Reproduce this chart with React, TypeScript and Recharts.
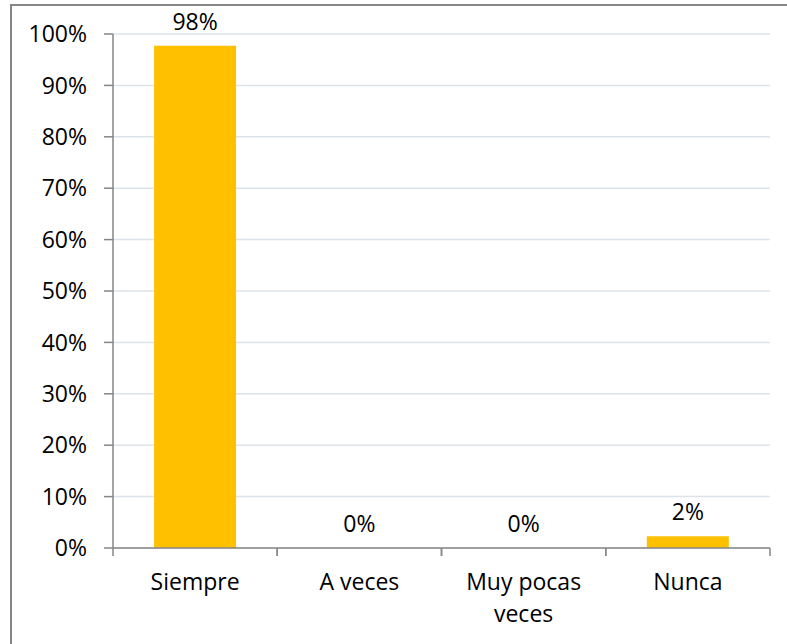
import { ComposedChart, Bar, Line, XAxis, YAxis, CartesianGrid, LabelList } from 'recharts';

const categories = ['Siempre', 'A veces', 'Muy pocas veces', 'Nunca'];
const percentages = [97.7, 0, 0, 2.3];
const yTicks = [0, 10, 20, 30, 40, 50, 60, 70, 80, 90, 100];

const data = categories.map((name, i) => ({ name, value: percentages[i] }));

const FONT = '"Open Sans", sans-serif';
const FS = 23;
const AXIS = '#868686';
const GRID = '#dde3ea';
const GOLD = '#FFC000';
const X_TICK_GAP = 26;

// greedy word wrap, ~10 chars per line
function wrap(label: string, max = 10) {
  const lines: string[] = [];
  let cur = '';
  for (const w of label.split(' ')) {
    const next = cur ? `${cur} ${w}` : w;
    if (next.length > max && cur) {
      lines.push(cur);
      cur = w;
    } else {
      cur = next;
    }
  }
  if (cur) lines.push(cur);
  return lines;
}

// label + Excel-style tick marks on the category boundaries (half a band each side)
function CategoryTick(props: any) {
  const { x, y, payload } = props;
  const lines = wrap(String(payload.value));
  const half = Number(payload.offset) || 0;
  const y0 = y - X_TICK_GAP;
  return (
    <g>
      {half > 0 && (
        <>
          <line x1={x - half} x2={x - half} y1={y0} y2={y0 + 8} stroke={AXIS} strokeWidth={1.5} />
          <line x1={x + half} x2={x + half} y1={y0} y2={y0 + 8} stroke={AXIS} strokeWidth={1.5} />
        </>
      )}
      <text x={x} y={y} textAnchor="middle" fontSize={FS} fontFamily={FONT} fill="#000">
        {lines.map((l, i) => (
          <tspan key={i} x={x} dy={i === 0 ? '0.71em' : 32}>{l}</tspan>
        ))}
      </text>
    </g>
  );
}

export default function App() {
  return (
    <div style={{ position: 'absolute', left: 0, top: 0, width: 787, height: 644, background: '#fff', overflow: 'hidden' }}>
      <div style={{
        position: 'absolute', left: 10, top: 4, width: 820, height: 700,
        borderLeft: `2px solid ${AXIS}`, borderTop: `2px solid ${AXIS}`,
      }} />
      <div style={{ position: 'absolute', left: 0, top: 0 }}>
        <ComposedChart
          width={787} height={644}
          data={data}
          margin={{ top: 34, right: 17, left: 0, bottom: 0 }}
          barCategoryGap="25%"
        >
          <CartesianGrid vertical={false} stroke={GRID} strokeWidth={1.5} />
          <XAxis
            dataKey="name" height={96}
            axisLine={{ stroke: AXIS, strokeWidth: 1.5 }}
            tickLine={false} tickSize={0} tickMargin={X_TICK_GAP}
            interval={0}
            tick={<CategoryTick />}
          />
          <YAxis
            width={113} domain={[0, 100]} ticks={yTicks}
            tickFormatter={(v: number) => `${v}%`}
            axisLine={{ stroke: AXIS, strokeWidth: 1.5 }}
            tickLine={{ stroke: AXIS, strokeWidth: 1.5 }} tickSize={9} tickMargin={17}
            tick={{ fill: '#000', fontSize: FS, fontFamily: FONT }}
          />
          <Bar dataKey="value" fill={GOLD} isAnimationActive={false} />
          {/* invisible series only to carry the data labels, so 0% values also get one */}
          <Line
            dataKey="value" stroke="none" dot={false} activeDot={false}
            isAnimationActive={false} legendType="none"
          >
            <LabelList
              dataKey="value" position="top" offset={16}
              formatter={(v: any) => `${Math.round(Number(v))}%`}
              style={{ fill: '#000', fontSize: FS, fontFamily: FONT }}
            />
          </Line>
        </ComposedChart>
      </div>
    </div>
  );
}
